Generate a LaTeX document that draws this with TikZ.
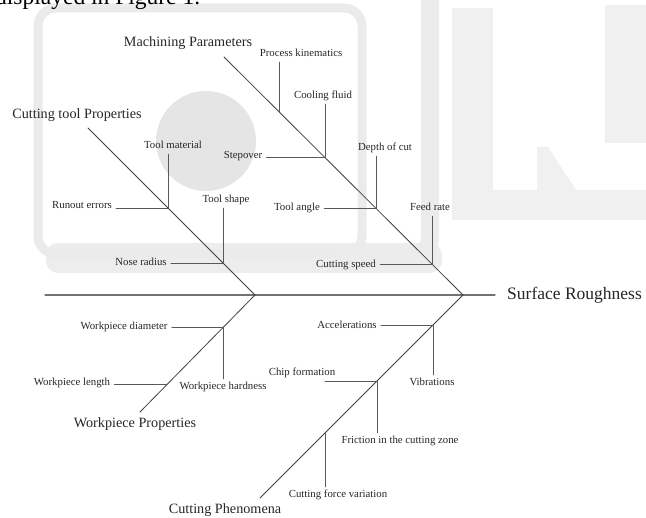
\documentclass[tikz,border=0pt]{standalone}
\usepackage{fontspec}
\setmainfont{Liberation Serif}
\begin{document}
\begin{tikzpicture}[x=1pt, y=-1pt, line cap=round,
  lbl/.style={font=\fontsize{10.8}{12}\selectfont, text=black!85, text height=7.5pt, text depth=2.3pt, inner xsep=4pt, inner ysep=3pt},
  cat/.style={font=\fontsize{14.2}{16}\selectfont, text=black!85, inner sep=2pt},
  spine/.style={draw=black!55, line width=1.2pt},
  bone/.style={draw=black!75, line width=0.8pt},
  twig/.style={draw=black!65, line width=0.6pt},
  wmark/.style={draw=gray!16, line width=9pt, rounded corners=18pt}]
  \useasboundingbox (0,0) rectangle (646,518);
  % faded background of the scanned page
  \fill[gray!14, rounded corners=12pt] (46,243) rectangle (442,273);
  \draw[wmark] (38,8) rectangle (362,254);
  \draw[gray!15, line width=18pt, rounded corners=18pt] (430,-12) |- (350,256);
  \fill[gray!12] (452,8) rectangle (493,220);
  \fill[gray!12] (452,190) rectangle (646,220);
  \fill[gray!12] (605,5) rectangle (646,143);
  \fill[gray!12] (537,147) -- (548,147) -- (576,190) -- (537,190) -- cycle;
  \fill[gray!20] (206,141) circle[radius=50pt];
  \node[font=\fontsize{23.5}{26}\selectfont, anchor=base west, inner sep=0pt] (caption) at (-5,5) {displayed in Figure 1.};

  % spine
  \coordinate (tail) at (45,295);
  \coordinate (head) at (463,295);
  \coordinate (root) at (255,295);
  \node[font=\fontsize{17.5}{20}\selectfont, text=black!85, anchor=west, inner sep=2pt] (sr) at (505,295) {Surface Roughness};
  \draw[spine] (tail) -- (sr.west) [shorten >=10pt];

  % main bones
  \node[cat] (mp) at (188,43) {Machining Parameters};
  \node[cat] (ct) at (77,115) {Cutting tool Properties};
  \node[cat] (wp) at (135,424) {Workpiece Properties};
  \node[cat] (cp) at (225,510) {Cutting Phenomena};
  \coordinate (mpTop) at (224,57);
  \coordinate (ctTop) at (88,128);
  \coordinate (wpEnd) at (140,412);
  \coordinate (cpEnd) at (260,498);
  \draw[bone] (mpTop) -- (head);
  \draw[bone] (ctTop) -- (root);
  \draw[bone] (root) -- (wpEnd);
  \draw[bone] (head) -- (cpEnd);

  % junctions on the bones
  \coordinate (mp1) at (279,111.8);
  \coordinate (mp2) at (325,157.6);
  \coordinate (mp3) at (376,208.4);
  \coordinate (mp4) at (432,264.1);
  \coordinate (ct1) at (168,208);
  \coordinate (ct2) at (223,263);
  \coordinate (wp1) at (223,327.6);
  \coordinate (wp2) at (167,384.5);
  \coordinate (cp1) at (433,325);
  \coordinate (cp2) at (377,381);
  \coordinate (cp3) at (325,433);

  % Machining Parameters
  \node[lbl] (kin) at (301,54) {Process kinematics};
  \node[lbl] (cool) at (323,96) {Cooling fluid};
  \node[lbl] (step) at (243,156) {Stepover};
  \node[lbl] (doc) at (385,148) {Depth of cut};
  \node[lbl] (tang) at (297,208) {Tool angle};
  \node[lbl] (feed) at (430,208) {Feed rate};
  \node[lbl] (speed) at (346,265) {Cutting speed};
  \draw[twig] (kin.south -| mp1) -- (mp1);
  \draw[twig] (cool.south -| mp2) -- (mp2);
  \draw[twig] (step.east |- mp2) -- (mp2);
  \draw[twig] (doc.south -| mp3) -- (mp3);
  \draw[twig] (tang.east |- mp3) -- (mp3);
  \draw[twig] (feed.south -| mp4) -- (mp4);
  \draw[twig] (speed.east |- mp4) -- (mp4);

  % Cutting tool Properties
  \node[lbl] (mat) at (173,146) {Tool material};
  \node[lbl] (run) at (82,206) {Runout errors};
  \node[lbl] (shape) at (226,200) {Tool shape};
  \node[lbl] (nose) at (141,263) {Nose radius};
  \draw[twig] (mat.south -| ct1) -- (ct1);
  \draw[twig] (run.east |- ct1) -- (ct1);
  \draw[twig] (shape.south -| ct2) -- (ct2);
  \draw[twig] (nose.east |- ct2) -- (ct2);

  % Workpiece Properties
  \node[lbl] (diam) at (124,327) {Workpiece diameter};
  \node[lbl] (hard) at (223,387) {Workpiece hardness};
  \node[lbl] (len) at (72,383) {Workpiece length};
  \draw[twig] (diam.east |- wp1) -- (wp1);
  \draw[twig] (wp1) -- (hard.north -| wp1);
  \draw[twig] (len.east |- wp2) -- (wp2);

  % Cutting Phenomena
  \node[lbl] (acc) at (347,326) {Accelerations};
  \node[lbl] (vib) at (432,383) {Vibrations};
  \node[lbl] (chip) at (302,373) {Chip formation};
  \node[lbl] (fric) at (400,441) {Friction in the cutting zone};
  \node[lbl] (force) at (338,495) {Cutting force variation};
  \draw[twig] (acc.east |- cp1) -- (cp1);
  \draw[twig] (cp1) -- (vib.north -| cp1);
  \draw[twig] (325,381) -- (cp2);
  \draw[twig] (cp2) -- (fric.north -| cp2);
  \draw[twig] (cp3) -- (force.north -| cp3);
\end{tikzpicture}
\end{document}
